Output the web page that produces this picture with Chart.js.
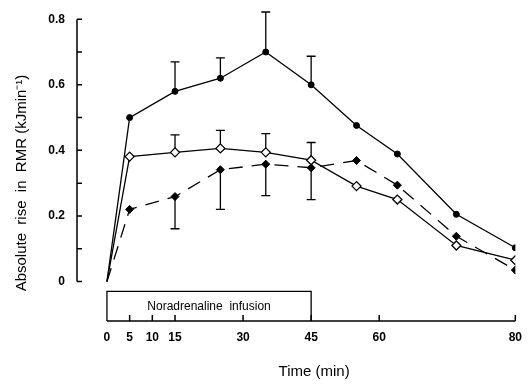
<!DOCTYPE html>
<html>
<head>
<meta charset="utf-8">
<script src="https://cdn.jsdelivr.net/npm/chart.js@4.4.1/dist/chart.umd.min.js"></script>
<style>
  html, body { margin: 0; padding: 0; background: #fff; }
  canvas { display: block; }
</style>
</head>
<body>
<canvas id="rmr-chart" width="531" height="385"></canvas>
<script>
// time points (min); the last one sits on the axis tick labelled "80"
const times = [0, 5, 15, 25, 35, 45, 55, 64, 77, 90];

// filled circles, solid line
const riseA = [0, 0.50, 0.58, 0.62, 0.70, 0.60, 0.476, 0.389, 0.205, 0.103];
const upperA = [null, null, 0.67, 0.682, 0.822, 0.687, null, null, null, null];

// open diamonds, solid line
const riseB = [0, 0.381, 0.394, 0.406, 0.394, 0.370, 0.291, 0.25, 0.11, 0.065];
const upperB = [null, null, 0.447, 0.461, 0.451, 0.424, null, null, null, null];

// filled diamonds, dashed line
const riseC = [0, 0.22, 0.259, 0.341, 0.358, 0.347, 0.369, 0.294, 0.138, 0.035];
const lowerC = [null, null, 0.161, 0.22, 0.262, 0.25, null, null, null, null];

const xTickValues = [0, 5, 10, 15, 30, 45, 60, 90];
const xTickLabels = ['0', '5', '10', '15', '30', '45', '60', '80'];
const yTickValues = [0, 0.1, 0.2, 0.3, 0.4, 0.5, 0.6, 0.7, 0.8];
const yTickLabels = ['0', '', '0.2', '', '0.4', '', '0.6', '', '0.8'];

const xTitle = 'Time (min)';
const yTitle = 'Absolute  rise  in  RMR (kJmin\u207B\u00B9)';
const infusion = { from: 0, to: 45, label: 'Noradrenaline  infusion' };

const toPoints = (vals) => vals.map((v, i) => ({ x: times[i], y: v }));
const hideFirst = (r) => times.map((t, i) => (i === 0 ? 0 : r));

// error bars, axes with inward ticks, axis titles and the infusion box
const extras = {
  id: 'extras',
  beforeDatasetsDraw(chart) {
    const ctx = chart.ctx;
    const x = chart.scales.x, y = chart.scales.y;
    ctx.save();
    ctx.strokeStyle = '#000';
    ctx.lineWidth = 1.3;
    chart.data.datasets.forEach((ds) => {
      (ds.errEnds || []).forEach((e, i) => {
        if (e == null) return;
        const px = x.getPixelForValue(times[i]);
        const p0 = y.getPixelForValue(ds.data[i].y);
        const p1 = y.getPixelForValue(e);
        ctx.beginPath();
        ctx.moveTo(px, p0); ctx.lineTo(px, p1);
        ctx.moveTo(px - 4.5, p1); ctx.lineTo(px + 4.5, p1);
        ctx.stroke();
      });
    });
    ctx.restore();
  },
  afterDraw(chart) {
    const ctx = chart.ctx;
    const x = chart.scales.x, y = chart.scales.y;
    const area = chart.chartArea;
    ctx.save();
    ctx.strokeStyle = '#000';
    ctx.lineWidth = 1.5;
    // y axis
    const yl = area.left;
    ctx.beginPath();
    ctx.moveTo(yl, y.getPixelForValue(0));
    ctx.lineTo(yl, y.getPixelForValue(0.8));
    yTickValues.forEach((v) => {
      const py = y.getPixelForValue(v);
      ctx.moveTo(yl, py); ctx.lineTo(yl + 5, py);
    });
    ctx.stroke();
    // x axis
    const xb = area.bottom;
    const x0 = x.getPixelForValue(0), x1 = x.getPixelForValue(90);
    ctx.beginPath();
    ctx.moveTo(x0, xb);
    ctx.lineTo(x1, xb);
    xTickValues.forEach((v) => {
      if (v === 0) return;
      const px = x.getPixelForValue(v);
      ctx.moveTo(px, xb); ctx.lineTo(px, xb - 6);
    });
    ctx.stroke();
    // infusion box
    const bx0 = x.getPixelForValue(infusion.from);
    const bx1 = x.getPixelForValue(infusion.to);
    const by = y.getPixelForValue(-0.03);
    ctx.lineWidth = 1.3;
    ctx.beginPath();
    ctx.moveTo(bx0, xb); ctx.lineTo(bx0, by);
    ctx.lineTo(bx1, by); ctx.lineTo(bx1, xb);
    ctx.stroke();
    ctx.fillStyle = '#000';
    ctx.font = '12px "Liberation Sans", sans-serif';
    ctx.textAlign = 'center';
    ctx.textBaseline = 'middle';
    ctx.fillText(infusion.label, (bx0 + bx1) / 2, (by + xb) / 2);
    // axis titles
    ctx.font = '15px "Liberation Sans", sans-serif';
    ctx.fillText(xTitle, (x0 + x1) / 2 + 3, 372);
    ctx.translate(22, 183);
    ctx.rotate(-Math.PI / 2);
    ctx.fillText(yTitle, 0, 0);
    ctx.restore();
  }
};

new Chart(document.getElementById('rmr-chart'), {
  type: 'line',
  data: {
    datasets: [
      {
        data: toPoints(riseA),
        errEnds: upperA,
        borderColor: '#000',
        borderWidth: 1.3,
        pointStyle: 'circle',
        pointRadius: hideFirst(3),
        pointBackgroundColor: '#000',
        pointBorderColor: '#000',
        pointBorderWidth: 1
      },
      {
        data: toPoints(riseB),
        errEnds: upperB,
        borderColor: '#000',
        borderWidth: 1.3,
        pointStyle: 'rectRot',
        pointRadius: hideFirst(4.5),
        pointBackgroundColor: '#fff',
        pointBorderColor: '#000',
        pointBorderWidth: 1.3
      },
      {
        data: toPoints(riseC),
        errEnds: lowerC,
        borderColor: '#000',
        borderWidth: 1.3,
        borderDash: [14, 9],
        pointStyle: 'rectRot',
        pointRadius: hideFirst(4),
        pointBackgroundColor: '#000',
        pointBorderColor: '#000',
        pointBorderWidth: 1
      }
    ]
  },
  options: {
    responsive: false,
    animation: false,
    devicePixelRatio: 1,
    layout: { padding: { top: 15, right: 7, left: 0, bottom: 0 } },
    plugins: { legend: { display: false }, tooltip: { enabled: false } },
    scales: {
      x: {
        type: 'linear',
        min: -6.6,
        max: 90,
        afterBuildTicks: (s) => { s.ticks = xTickValues.map((v) => ({ value: v })); },
        afterFit: (s) => { s.height = 64; },
        grid: { display: false, drawTicks: false },
        border: { display: false },
        ticks: {
          autoSkip: false,
          maxRotation: 0,
          padding: 9,
          color: '#000',
          font: { family: 'Liberation Sans', size: 12, weight: 'bold' },
          callback: (v, i) => xTickLabels[i]
        }
      },
      y: {
        min: -0.1203,
        max: 0.8,
        afterBuildTicks: (s) => { s.ticks = yTickValues.map((v) => ({ value: v })); },
        afterFit: (s) => { s.width = 77; },
        grid: { display: false, drawTicks: false },
        border: { display: false },
        ticks: {
          autoSkip: false,
          padding: 12,
          color: '#000',
          font: { family: 'Liberation Sans', size: 12, weight: 'bold' },
          callback: (v, i) => yTickLabels[i]
        }
      }
    }
  },
  plugins: [extras]
});
</script>
</body>
</html>
